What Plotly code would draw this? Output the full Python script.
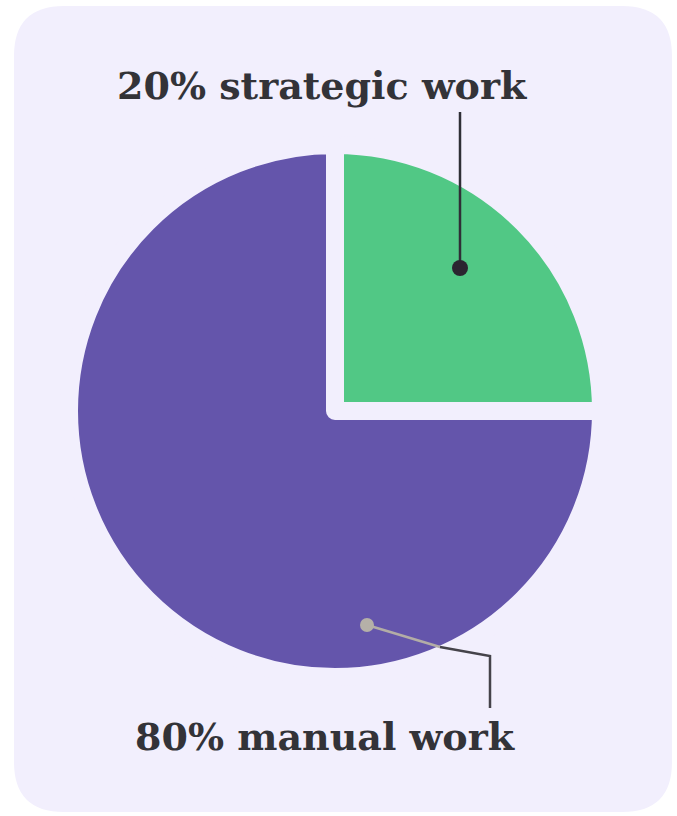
import plotly.graph_objects as go

# ---- data ----
categories = ["strategic work", "manual work"]
label_pcts = [20, 80]              # percentages printed in the labels
slice_shares = [25, 75]            # slice sizes as drawn in the picture
slice_colors = ["#51c885", "#6455ab"]

W, H = 677, 816
BG = "#f2effd"

def px(x):
    return x / W

def py(y):
    return 1 - y / H

fig = go.Figure()

cx, cy, r = 335, 411, 266
fig.add_trace(go.Pie(
    labels=categories,
    values=slice_shares,
    sort=False,
    direction="clockwise",
    rotation=0,
    marker=dict(colors=slice_colors, line=dict(color=BG, width=18)),
    textinfo="none",
    hoverinfo="label",
    showlegend=False,
    domain=dict(x=[px(cx - r), px(cx + r)], y=[py(cy + r), py(cy - r)]),
))

# rounded background card
x0, x1, y0, y1, rad = 14, 672, 6, 812, 50
path = (
    f"M {px(x0+rad)},{py(y0)} L {px(x1-rad)},{py(y0)} "
    f"Q {px(x1)},{py(y0)} {px(x1)},{py(y0+rad)} "
    f"L {px(x1)},{py(y1-rad)} Q {px(x1)},{py(y1)} {px(x1-rad)},{py(y1)} "
    f"L {px(x0+rad)},{py(y1)} Q {px(x0)},{py(y1)} {px(x0)},{py(y1-rad)} "
    f"L {px(x0)},{py(y0+rad)} Q {px(x0)},{py(y0)} {px(x0+rad)},{py(y0)} Z"
)
shapes = [dict(type="path", path=path, xref="paper", yref="paper",
               fillcolor=BG, line=dict(width=0), layer="below")]

dark = "#2f2f36"
# leader for strategic work
shapes.append(dict(type="line", xref="paper", yref="paper",
                   x0=px(460), y0=py(112), x1=px(460), y1=py(268),
                   line=dict(color=dark, width=2.5)))
shapes.append(dict(type="circle", xref="paper", yref="paper",
                   x0=px(452), y0=py(260), x1=px(468), y1=py(276),
                   fillcolor="#2b2530", line=dict(width=0)))
# leader for manual work
shapes.append(dict(type="line", xref="paper", yref="paper",
                   x0=px(367), y0=py(625), x1=px(440), y1=py(647),
                   line=dict(color="#b3ada6", width=2.5)))
shapes.append(dict(type="path", xref="paper", yref="paper",
                   path=f"M {px(440)},{py(647)} L {px(490)},{py(656)} L {px(490)},{py(708)}",
                   line=dict(color="#45434a", width=2.5)))
shapes.append(dict(type="circle", xref="paper", yref="paper",
                   x0=px(360), y0=py(618), x1=px(374), y1=py(632),
                   fillcolor="#b5b0a8", line=dict(width=0)))

font = dict(family="DejaVu Serif", size=38, color="#333338")
annotations = [
    dict(x=px(322), y=py(86), xref="paper", yref="paper",
         text=f"<b>{label_pcts[0]}% {categories[0]}</b>", showarrow=False,
         font=font, xanchor="center", yanchor="middle"),
    dict(x=px(325), y=py(736), xref="paper", yref="paper",
         text=f"<b>{label_pcts[1]}% {categories[1]}</b>", showarrow=False,
         font=font, xanchor="center", yanchor="middle"),
]

fig.update_layout(
    width=W, height=H,
    margin=dict(l=0, r=0, t=0, b=0),
    paper_bgcolor="white",
    plot_bgcolor="white",
    shapes=shapes,
    annotations=annotations,
)

fig.write_html("out.html")
